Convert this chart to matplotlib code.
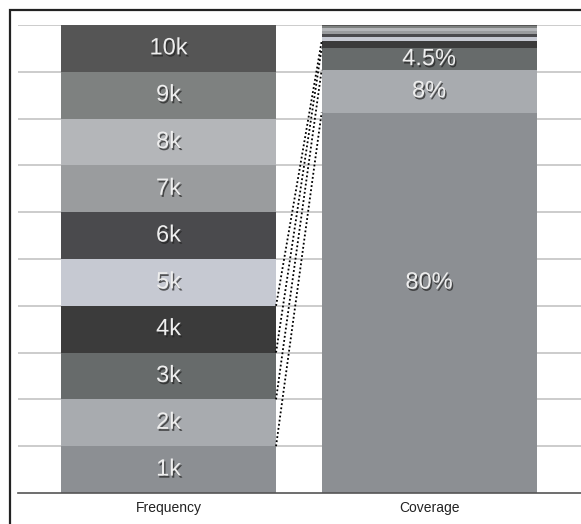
import matplotlib
matplotlib.use("Agg")
import matplotlib.pyplot as plt
import matplotlib.patheffects as pe
from matplotlib.patches import Rectangle
import numpy as np

# data
categories = ["Frequency", "Coverage"]
seg_labels = ["1k", "2k", "3k", "4k", "5k", "6k", "7k", "8k", "9k", "10k"]
freq_values = [1, 1, 1, 1, 1, 1, 1, 1, 1, 1]
coverage_pct = [81.3, 9.1, 4.6, 1.5, 0.92, 0.7, 0.64, 0.53, 0.43, 0.28]
coverage_labels = ["80%", "8%", "4.5%", "", "", "", "", "", "", ""]
seg_colors = ["#8c8f93", "#a8abaf", "#676b6b", "#3b3b3b", "#c6c9d2",
              "#4a4a4d", "#9a9c9e", "#b4b6b9", "#7e8180", "#555555"]

fig = plt.figure(figsize=(5.81, 5.24), dpi=100)
ax = fig.add_axes([18 / 581, 31 / 524, 1 - 18 / 581, 468 / 524])

# outer frame (cut off at right and bottom)
fig.patches.append(Rectangle((10 / 581, -0.05), 1.2, (514 / 524) + 0.05,
                             transform=fig.transFigure, fill=False,
                             edgecolor="#222222", linewidth=1.6, zorder=0))

width = 0.825
shadow = [pe.SimplePatchShadow(offset=(1, -1.5), shadow_rgbFace="#222222", alpha=0.7),
          pe.Normal()]

freq = np.array(freq_values, dtype=float)
cov = np.array(coverage_pct) / np.sum(coverage_pct) * freq.sum()

freq_bottoms = np.concatenate([[0], np.cumsum(freq)[:-1]])
cov_bottoms = np.concatenate([[0], np.cumsum(cov)[:-1]])

ax.bar(np.zeros(len(freq)), freq, width, bottom=freq_bottoms, color=seg_colors, zorder=2)
ax.bar(np.ones(len(cov)), cov, width, bottom=cov_bottoms, color=seg_colors, zorder=2)

for i, lab in enumerate(seg_labels):
    ax.text(0, freq_bottoms[i] + freq[i] / 2, lab, ha="center", va="center",
            fontsize=17, color="#eeeeee", family="Liberation Sans",
            path_effects=shadow, zorder=4)

for i, lab in enumerate(coverage_labels):
    if not lab:
        continue
    ty = cov_bottoms[i] + cov[i] / 2
    if i == 0:
        ty += 0.43
    ax.text(1, ty, lab, ha="center", va="center",
            fontsize=17, color="#eeeeee", family="Liberation Sans",
            path_effects=shadow, zorder=4)

# dotted connectors between the two bars
freq_tops = np.cumsum(freq)
cov_tops = np.cumsum(cov)
for i in range(4):
    ax.plot([width / 2, 1 - width / 2], [freq_tops[i], cov_tops[i]],
            linestyle=(0, (1, 1.3)), color="black", linewidth=1.3, zorder=3)

ax.set_xlim(-0.578, 1.583)
ax.set_ylim(0, 10)
for y in range(1, 11):
    ax.axhline(y, color="#cccccc", linewidth=1.4, zorder=1)

ax.set_yticks([])
ax.set_xticks([0, 1])
ax.set_xticklabels(categories, fontsize=10, color="#222222", family="Liberation Sans")
ax.tick_params(axis="x", length=0, pad=6)
for s in ["left", "right", "top"]:
    ax.spines[s].set_visible(False)
ax.spines["bottom"].set_color("#555555")
ax.spines["bottom"].set_linewidth(1.2)

plt.savefig("out.png", dpi=100)
plt.close()
